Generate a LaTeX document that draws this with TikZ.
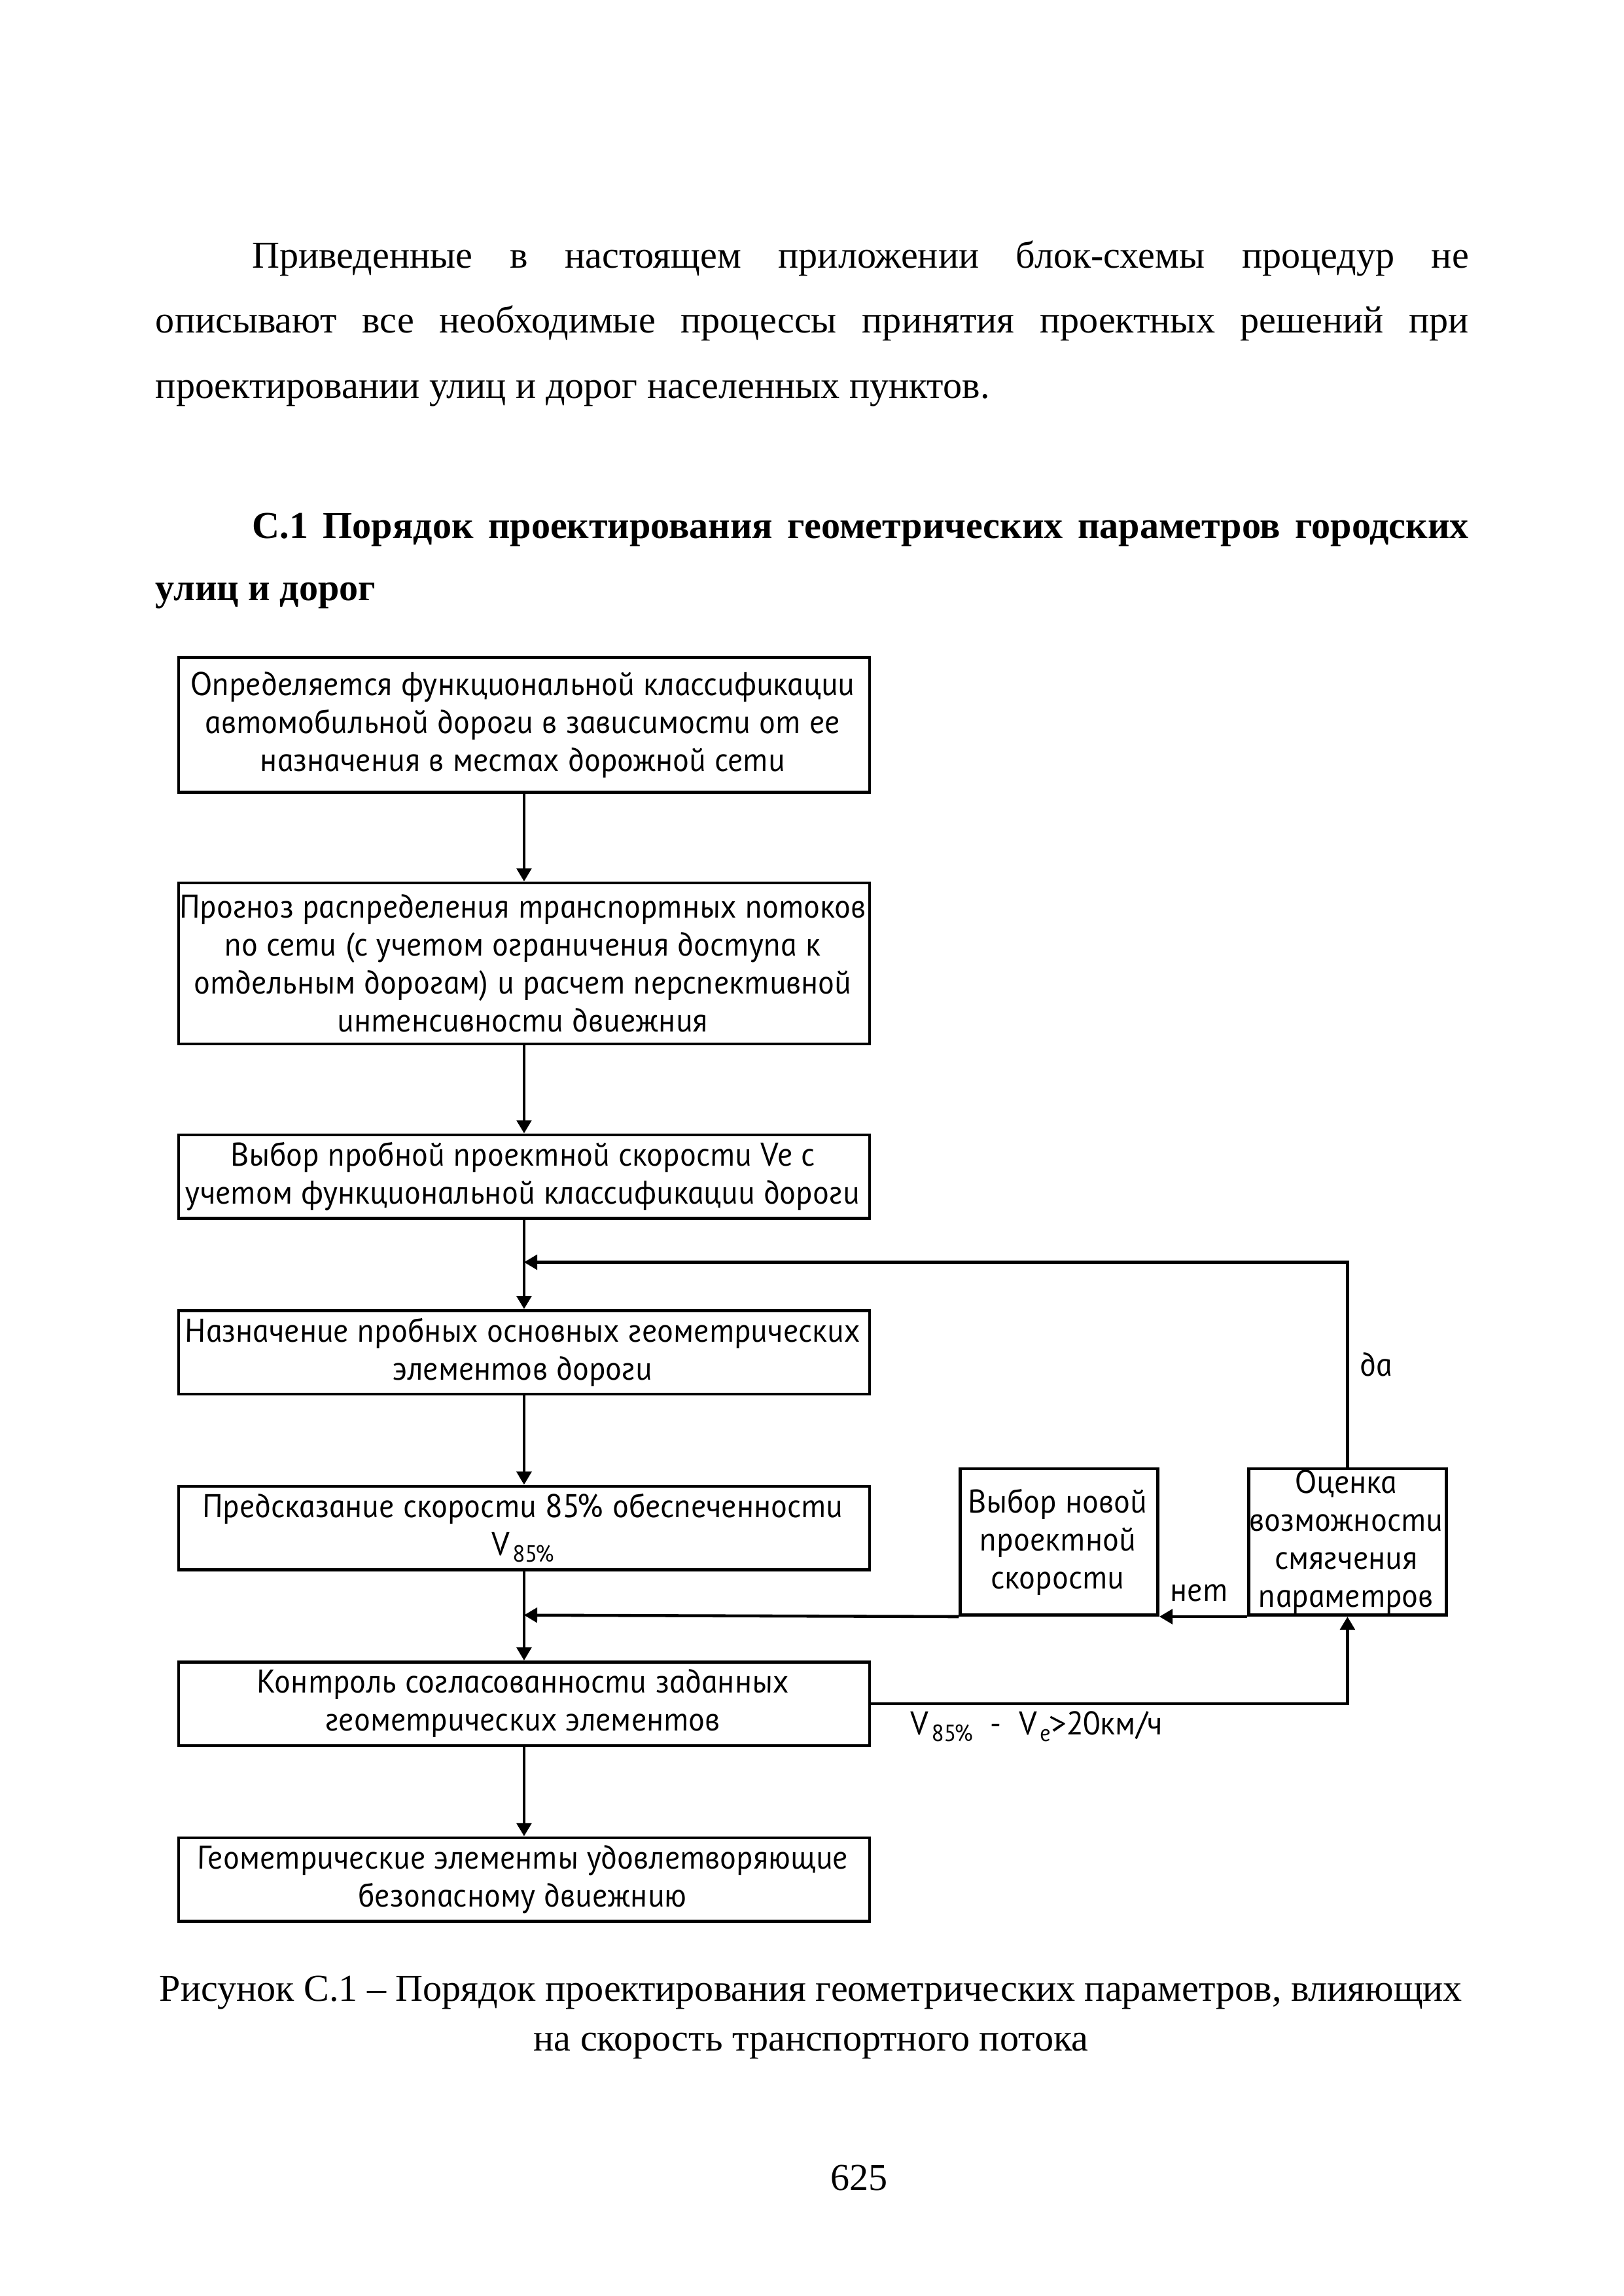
\documentclass[tikz,border=0pt]{standalone}
\usepackage{fontspec}
\setmainfont{Liberation Serif}
\newfontfamily\gostfont{PT Sans}[ItalicFeatures={FakeSlant=-0.2}]
\usetikzlibrary{arrows.meta}
\newcommand\gost{\gostfont\itshape\fontsize{12.1}{13.97}\selectfont}
\newcommand\lowsub[1]{\kern1pt\raisebox{-0.4ex}{\fontsize{8.6}{8.6}\selectfont #1}}
\begin{document}
\begin{tikzpicture}[x=0.018936cm, y=-0.018936cm,
  box/.style={draw, line width=1.1pt, inner sep=0pt, align=center, font=\gost, minimum width=8.938cm},
  smallbox/.style={draw, line width=1.1pt, inner sep=0pt, align=center, font=\gost, minimum width=2.556cm, minimum height=1.894cm},
  conn/.style={line width=1.1pt, -{Triangle[length=0.17cm,width=0.19cm]}},
  lbl/.style={font=\gost, inner sep=0pt},
  body/.style={font=\fontsize{14}{16}\selectfont, inner sep=0pt, anchor=base west},
  bodyc/.style={font=\fontsize{14}{16}\selectfont, inner sep=0pt, anchor=base},
]
\useasboundingbox (0,0) rectangle (1109,1568);

% body text
\node[body] (p1) at (172,183) {\makebox[15.736cm][s]{Приведенные в настоящем приложении блок-схемы процедур не}};
\node[body] (p2) at (106,227.5) {\makebox[16.986cm][s]{описывают все необходимые процессы принятия проектных решений при}};
\node[body] (p3) at (106,272) {проектировании улиц и дорог населенных пунктов.};
\node[body, font=\fontsize{14}{16}\selectfont\bfseries] (h1) at (172,367.6) {\makebox[15.736cm][s]{С.1 Порядок проектирования геометрических параметров городских}};
\node[body, font=\fontsize{14}{16}\selectfont\bfseries] (h2) at (106,410) {улиц и дорог};

% boxes
\node[box, minimum height=1.742cm] (b1) at (358,495) {Определяется функциональной классификации\\автомобильной дороги в зависимости от ее\\назначения в местах дорожной сети};
\node[box, minimum height=2.083cm] (b2) at (358,658) {Прогноз распределения транспортных потоков\\по сети (с учетом ограничения доступа к\\отдельным дорогам) и расчет перспективной\\интенсивности двиежния};
\node[box, minimum height=1.079cm] (b3) at (358,803.5) {Выбор пробной проектной скорости Ve с\\учетом функциональной классификации дороги};
\node[box, minimum height=1.079cm] (b4) at (358,923.5) {Назначение пробных основных геометрических\\элементов дороги};
\node[box, minimum height=1.079cm] (b5) at (358,1043.5) {Предсказание скорости 85\% обеспеченности\\V\lowsub{85\%}};
\node[box, minimum height=1.079cm] (b6) at (358,1163.5) {Контроль согласованности заданных\\геометрических элементов};
\node[box, minimum height=1.079cm] (b7) at (358,1283.5) {Геометрические элементы удовлетворяющие\\безопасному двиежнию};
\node[smallbox] (vyb) at (723.5,1053) {Выбор новой\\проектной\\скорости};
\node[smallbox] (ocen) at (920.5,1053) {Оценка\\возможности\\смягчения\\параметров};

\coordinate (fb) at (358,862);
\coordinate (nj) at (358,1103);

% connectors
\draw[conn] (b1) -- (b2);
\draw[conn] (b2) -- (b3);
\draw[conn] (b3) -- (b4);
\draw[conn] (ocen.north) |- (fb);
\draw[conn] (b4) -- (b5);
\draw[conn] (b5) -- (b6);
\draw[conn] (ocen.south west) -- (vyb.south east);
\draw[conn] (vyb.south west) -- (nj);
\draw[conn] (b6.east) -| (ocen.south);
\draw[conn] (b6) -- (b7);

% labels
\node[lbl] (da) at (941,932) {да};
\node[lbl] (net) at (820,1088) {нет};
\node[lbl] (cond) at (709,1179) {V\lowsub{85\%}\ \ -\ \ V\lowsub{e}>20км/ч};

% caption
\node[bodyc] (c1) at (554,1366.5) {Рисунок С.1 – Порядок проектирования геометрических параметров, влияющих};
\node[bodyc] (c2) at (554,1400.6) {на скорость транспортного потока};
\node[bodyc] (pg) at (587,1496) {625};
\end{tikzpicture}
\end{document}
